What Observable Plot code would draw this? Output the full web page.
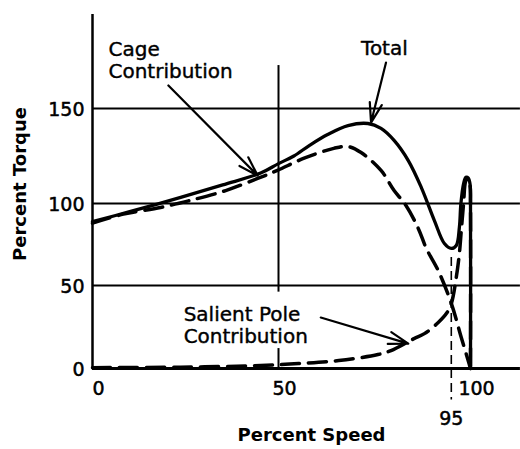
<!DOCTYPE html>
<html>
<head>
<meta charset="utf-8">
<script src="https://cdn.jsdelivr.net/npm/d3@7"></script>
<script src="https://cdn.jsdelivr.net/npm/@observablehq/plot@0.6"></script>
<style>
  html, body { margin: 0; padding: 0; background: #fff; }
</style>
</head>
<body>
<div id="chart"></div>
<script>
// ---- Data ----
const totalSpeed  = [0, 10, 23.7, 35, 45.2, 50, 54, 58, 62.8, 68.1, 73.3, 76.7, 80.1, 83.8, 87.2, 90.6, 93.2, 95, 96.3, 97.1, 97.5, 98.2, 98.8, 99.4, 99.9, 100, 100];
const totalTorque = [89, 95, 103.2, 109.8, 116, 121, 125, 130.5, 136.3, 141, 142.1, 139.5, 133.2, 122.6, 108.4, 89.6, 75.6, 72.6, 74.4, 85.4, 100, 110.5, 113.8, 113.5, 110, 100, 0];

const cageSpeed  = [0, 8.3, 18.3, 25.8, 35.8, 44.4, 49.7, 56.5, 64.4, 68.1, 71.5, 76.7, 80.1, 83.2, 86.4, 88.5, 91.6, 95, 97.6, 99.7, 100];
const cageTorque = [88, 93.5, 97.6, 101.4, 106.8, 113.2, 117.4, 123.7, 129, 130, 126.8, 117.4, 106.8, 98.8, 84.8, 72.6, 59.1, 39.2, 18.7, 2.4, 0];

const salientSpeed  = [0, 23.7, 45.2, 55.2, 65.7, 75.9, 79.3, 85.3, 88, 91.6, 93.9, 95, 96.3, 97.1, 97.6, 98.2, 98.8, 99.4, 99.9, 100, 100];
const salientTorque = [0.5, 0.8, 1.8, 3, 4.8, 8.4, 10.8, 18, 21, 27.7, 33.7, 39, 55, 69.5, 83.5, 100, 112, 113, 109, 100, 0];

const yTicks = [0, 50, 100, 150];
const yTickLabels = ["0", "50", "100", "150"];
const xTicks = [0, 50, 100];
const xTickLabels = ["0", "50", "100"];
const markSpeed = 95;
const markSpeedLabel = "95";

const xTitle = "Percent Speed";
const yTitle = "Percent Torque";

// annotation texts and their anchors (data coordinates)
const noteTexts = ["Cage", "Contribution", "Total", "Salient Pole", "Contribution"];
const noteX     = [4.3, 4.3, 71.5, 24.5, 24.5];
const noteY     = [177.6, 165.8, 177.9, 28.4, 15.1];

// arrows (data coordinates)
const arrowX1 = [20.4, 78, 61];
const arrowY1 = [162.1, 174.2, 30.7];
const arrowX2 = [44.4, 74.1, 83.8];
const arrowY2 = [114.7, 142.6, 15];

// segments of the vertical 50 % speed gridline (interrupted by a label)
const midLineY1 = [172.6, 12];
const midLineY2 = [46, 0];

// ---- Build tables ----
const toRows = (xs, ys) => xs.map((x, i) => ({x, y: ys[i]}));
const total = toRows(totalSpeed, totalTorque);
const cage = toRows(cageSpeed, cageTorque);
const salient = toRows(salientSpeed, salientTorque);
const notes = noteTexts.map((t, i) => ({t, x: noteX[i], y: noteY[i]}));
const arrows = arrowX1.map((x1, i) => ({x1, y1: arrowY1[i], x2: arrowX2[i], y2: arrowY2[i]}));
const midSegs = midLineY1.map((y1, i) => ({x: 50, y1, y2: midLineY2[i]}));
const yT = yTicks.map((v, i) => ({v, l: yTickLabels[i]}));
const xT = xTicks.map((v, i) => ({v, l: xTickLabels[i]}));

const xRight = 113;

// the hand-drawn original has slightly uneven grid spacing: a piecewise-linear warp
const xWarp = d3.scaleLinear().domain([0, 50, 100]).range([0, 186, 378]);
const yWarp = d3.scaleLinear().domain([0, 50, 100, 150, 200]).range([0, 83, 165, 260, 355]);

const chart = Plot.plot({
  width: 520,
  height: 449,
  marginLeft: 92,
  marginRight: 50,
  marginTop: 13,
  marginBottom: 81,
  x: {transform: xWarp, domain: [0, 378], range: [92, 470], axis: null},
  y: {transform: yWarp, domain: [0, 355], range: [368, 13], axis: null},
  style: {fontFamily: "DejaVu Sans", background: "#fff", color: "#000"},
  marks: [
    // gridlines
    Plot.ruleY([50, 100, 150], {x1: 0, x2: xRight, stroke: "#000", strokeWidth: 2}),
    Plot.ruleX(midSegs, {x: "x", y1: "y1", y2: "y2", stroke: "#000", strokeWidth: 2}),
    // axes
    Plot.ruleY([0], {x1: 0, x2: xRight, stroke: "#000", strokeWidth: 3}),
    Plot.ruleX([0], {y1: 0, y2: 199.5, stroke: "#000", strokeWidth: 2.5}),
    // 95 % marker
    Plot.ruleX([markSpeed], {y1: 67, y2: -19, stroke: "#000", strokeWidth: 1.6, strokeDasharray: "9,5"}),
    // curves
    Plot.line(salient, {x: "x", y: "y", curve: "catmull-rom", stroke: "#000", strokeWidth: 3.5, strokeDasharray: "18,9"}),
    Plot.line(cage, {x: "x", y: "y", curve: "catmull-rom", stroke: "#000", strokeWidth: 3.5, strokeDasharray: "18,9"}),
    Plot.line(total, {x: "x", y: "y", curve: "catmull-rom", stroke: "#000", strokeWidth: 3.3}),
    // arrows
    Plot.arrow(arrows, {x1: "x1", y1: "y1", x2: "x2", y2: "y2", stroke: "#000", strokeWidth: 2.2, headLength: 14, headAngle: 35, strokeLinejoin: "miter"}),
    // annotations
    Plot.text(notes, {x: "x", y: "y", text: "t", textAnchor: "start", lineAnchor: "bottom", fontSize: 20, fill: "#000", stroke: "#000", strokeWidth: 0.4}),
    // tick labels
    Plot.text(yT, {x: 0, y: "v", text: "l", textAnchor: "end", dx: -8, dy: 1, fontSize: 19, fill: "#000", stroke: "#000", strokeWidth: 0.5}),
    Plot.text(xT, {x: "v", y: 0, text: "l", dx: 6, dy: 20, fontSize: 19, fill: "#000", stroke: "#000", strokeWidth: 0.5}),
    Plot.text([markSpeedLabel], {x: markSpeed, y: 0, text: d => d, dy: 50, fontSize: 19, fill: "#000", stroke: "#000", strokeWidth: 0.5}),
    // axis titles
    Plot.text([yTitle], {frameAnchor: "left", textAnchor: "middle", text: d => d, dx: -72, dy: -7, rotate: -90, fontSize: 18, fontWeight: "bold", fill: "#000"}),
    Plot.text([xTitle], {frameAnchor: "bottom", textAnchor: "middle", text: d => d, dx: 30, dy: 72, fontSize: 18, fontWeight: "bold", fill: "#000"})
  ]
});
document.getElementById("chart").appendChild(chart);
</script>
</body>
</html>
